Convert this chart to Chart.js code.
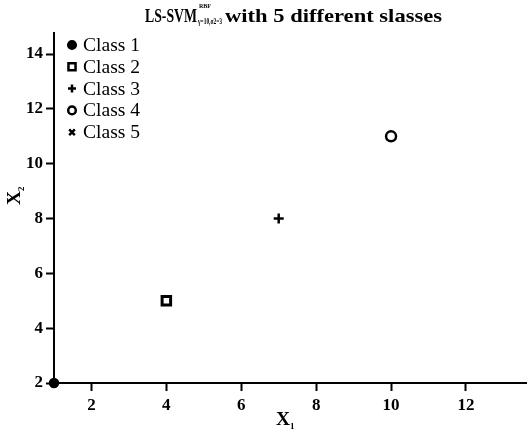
<!DOCTYPE html>
<html>
<head>
<meta charset="utf-8">
<script src="https://cdn.jsdelivr.net/npm/chart.js@4"></script>
<style>
  html, body { margin: 0; padding: 0; background: #fff; overflow: hidden; }
  canvas { display: block; }
</style>
</head>
<body>
<canvas id="myChart" width="527" height="431"></canvas>
<script>
//Chart data
const classNames = ["Class 1", "Class 2", "Class 3", "Class 4", "Class 5"];
const classX = [[1], [4], [7], [10], []];
const classY = [[2], [5], [8], [11], []];
const markers = ["circle", "rect", "cross", "circle", "crossRot"];
const filled = [true, false, false, false, false];
const xTicks = [2, 4, 6, 8, 10, 12];
const yTicks = [2, 4, 6, 8, 10, 12, 14];

const serif = "'Liberation Serif', 'Times New Roman', serif";

const datasets = classNames.map((name, i) => ({
  label: name,
  data: classX[i].map((x, j) => ({ x: x, y: classY[i][j] })),
  pointStyle: markers[i],
  pointRadius: markers[i] == "rect" ? 6 : markers[i] == "circle" && filled[i] ? 4 : 5,
  pointBorderWidth: markers[i] == "rect" ? 3 : 2.5,
  pointBorderColor: "#000",
  pointBackgroundColor: filled[i] ? "#000" : "#fff",
  clip: false,
}));

// text squeezed/stretched to a given width
const fitText = (ctx, txt, x, y, w) => {
  const natural = ctx.measureText(txt).width;
  ctx.save();
  ctx.translate(x, y);
  ctx.scale(w / natural, 1);
  ctx.fillText(txt, 0, 0);
  ctx.restore();
};

//draws title, axis titles and the legend
const textPlugin = {
  id: "texts",
  afterDraw(chart) {
    const ctx = chart.ctx;
    ctx.save();
    ctx.fillStyle = "#000";
    ctx.textBaseline = "alphabetic";
    ctx.textAlign = "left";

    // title with super/subscript
    ctx.font = "bold 19px " + serif;
    fitText(ctx, "LS-SVM", 145, 22, 52);
    ctx.font = "bold 7px " + serif;
    fitText(ctx, "RBF", 199, 8, 12);
    ctx.font = "bold 8px " + serif;
    fitText(ctx, "γ=10,σ2=3", 198, 24, 24);
    ctx.font = "bold 19px " + serif;
    fitText(ctx, "with 5 different slasses", 225, 22, 217);

    // x axis title
    ctx.font = "bold 19px " + serif;
    fitText(ctx, "X", 276, 425, 14);
    ctx.font = "bold 9px " + serif;
    ctx.fillText("1", 290, 429);

    // y axis title
    ctx.save();
    ctx.translate(20, 205);
    ctx.rotate(-Math.PI / 2);
    ctx.font = "bold 19px " + serif;
    fitText(ctx, "X", 0, 0, 14);
    ctx.font = "bold 9px " + serif;
    ctx.fillText("2", 14, 4);
    ctx.restore();

    // legend
    chart.data.datasets.forEach((ds, i) => {
      const ly = 45 + i * 21.8;
      ctx.fillStyle = filled[i] ? "#000" : "#fff";
      ctx.strokeStyle = "#000";
      Chart.helpers.drawPoint(ctx, {
        pointStyle: ds.pointStyle,
        radius: ds.pointStyle == "rect" ? 5 : ds.pointStyle == "circle" ? 3.8 : 4,
        borderWidth: 2,
      }, 72, ly);
      ctx.fillStyle = "#000";
      ctx.font = "19px " + serif;
      fitText(ctx, ds.label, 83, ly + 6, 57);
    });
    ctx.restore();
  },
};

var ctx = document.getElementById("myChart").getContext("2d");
var chart = new Chart(ctx, {
  type: "scatter",
  data: { datasets: datasets },
  options: {
    responsive: false,
    animation: false,
    layout: { autoPadding: false, padding: { top: 33, right: 0, left: 0, bottom: 0 } },
    plugins: {
      legend: { display: false },
      tooltip: { enabled: false },
      title: { display: false },
    },
    scales: {
      x: {
        type: "linear",
        min: 1,
        max: 13.63,
        afterBuildTicks: (s) => { s.ticks = xTicks.map((v) => ({ value: v })); },
        afterFit: (s) => { s.height = 48; s.paddingRight = 0; s.paddingLeft = 0; },
        grid: { drawOnChartArea: false, tickLength: 8, tickWidth: 2, tickColor: "#000" },
        border: { display: true, width: 2, color: "#000" },
        ticks: { color: "#000", padding: 4, font: { family: serif, size: 17, weight: "bold" } },
      },
      y: {
        type: "linear",
        min: 2,
        max: 14.77,
        afterBuildTicks: (s) => { s.ticks = yTicks.map((v) => ({ value: v })); },
        afterFit: (s) => { s.width = 54; s.paddingTop = 0; s.paddingBottom = 0; },
        grid: { drawOnChartArea: false, tickLength: 8, tickWidth: 2, tickColor: "#000" },
        border: { display: true, width: 2, color: "#000" },
        ticks: { color: "#000", padding: 3, font: { family: serif, size: 17, weight: "bold" } },
      },
    },
  },
  plugins: [textPlugin],
});
</script>
</body>
</html>
